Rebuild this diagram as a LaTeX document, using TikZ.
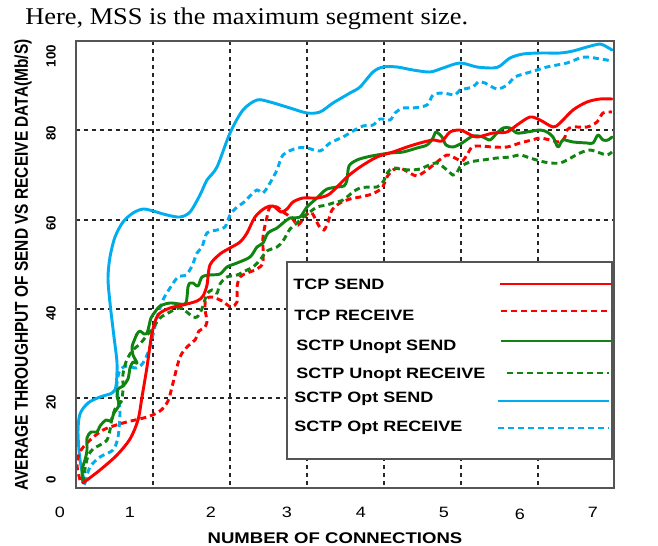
\documentclass[tikz,border=0pt]{standalone}
\usepackage{graphicx}
\usepackage{fontspec}
\setmainfont{Liberation Serif}
\setsansfont{Liberation Sans}
\usetikzlibrary{positioning}

\definecolor{tcpred}{RGB}{255,0,0}
\definecolor{unoptgreen}{RGB}{16,132,16}
\definecolor{optcyan}{RGB}{0,174,239}
\definecolor{framegray}{RGB}{85,85,85}

% the source figure is stretched sideways
\newcommand{\wide}[1]{\scalebox{1.2}[1]{#1}}

\tikzset{
  gridline/.style={black!85, line width=1.1pt, dash pattern=on 3pt off 3pt},
  sendline/.style={line width=2.2pt, line join=round, line cap=round},
  recvline/.style={line width=2.2pt, dash pattern=on 4.5pt off 3pt},
  legtext/.style={anchor=west, inner sep=0pt, font=\sffamily\bfseries\fontsize{11.25}{13}\selectfont},
  ticktext/.style={inner sep=0pt, font=\sffamily\fontsize{11.25}{13}\selectfont},
  ytick/.style={inner sep=0pt, rotate=90, font=\sffamily\bfseries\fontsize{10}{12}\selectfont},
}

\begin{document}
\begin{tikzpicture}[x=0.75pt, y=-0.75pt]
  \useasboundingbox (0,0) rectangle (658,546);

  % Caption line above the plot
  \node[anchor=base west, inner sep=0pt] (header) at (25,25)
    {\fontsize{18}{20}\selectfont\scalebox{1.1}[1]{Here, MSS is the maximum segment size.}};

  % Grid
  \foreach \gx in {153,230,307,384,461,538}
    \draw[gridline] (\gx,41) -- (\gx,488);
  \foreach \gy in {130,220,309,398}
    \draw[gridline] (76,\gy) -- (614,\gy);

  % Legend box (covers the grid)
  \filldraw[fill=white, draw=framegray, line width=1.1pt] (287,262) rectangle (612,459);
  \node[legtext] (lgA) at (293,284) {\wide{TCP SEND}};
  \node[legtext] (lgB) at (294,315) {\wide{TCP RECEIVE}};
  \node[legtext] (lgC) at (296,347) {\wide{SCTP Unopt SEND}};
  \node[legtext] (lgD) at (296,375) {\wide{SCTP Unopt RECEIVE}};
  \node[legtext] (lgE) at (294,399) {\wide{SCTP Opt SEND}};
  \node[legtext] (lgF) at (294,428) {\wide{SCTP Opt RECEIVE}};
  \draw[sendline, tcpred, line cap=butt] (500,284) -- (612,284);
  \draw[recvline, tcpred] (501,311) -- (612,311);
  \draw[sendline, unoptgreen, line cap=butt] (501,341) -- (612,341);
  \draw[recvline, unoptgreen] (507,373) -- (609,373);
  \draw[sendline, optcyan, line cap=butt] (498,401) -- (609,401);
  \draw[recvline, optcyan] (498,428) -- (609,428);

  % SCTP Opt RECEIVE
  \draw[recvline, optcyan] plot[smooth, tension=0.5] coordinates {
    (85,483) (90,467) (100,457) (113,450) (118,437) (120,413) (118,397) (117,383)
    (120,370) (127,366) (136,368) (143,363) (150,347) (157,318) (163,300) (170,288)
    (178,277) (186,275) (192,266) (197,253) (202,247) (207,233) (217,230) (225,227)
    (230,215) (237,207) (243,203) (250,196) (257,190) (263,193) (270,183) (277,170)
    (283,155) (297,148) (307,148) (320,151) (330,143) (343,137) (353,131) (363,126)
    (373,125) (380,119) (390,120) (395,113) (403,108) (413,108) (427,105) (433,95)
    (443,93) (455,95) (460,90) (473,87) (478,82) (485,83) (497,89) (507,85) (515,77)
    (527,73) (537,70) (547,67) (557,65) (567,63) (580,58) (588,57) (600,59) (607,60)
    (612,62)};
  % SCTP Opt SEND
  \draw[sendline, optcyan] plot[smooth, tension=0.5] coordinates {
    (85,484) (80,460) (78,432) (80,414) (88,403) (100,397) (112,393) (116,386)
    (117,363) (114,337) (110,303) (108,278) (110,257) (115,237) (123,222) (133,213)
    (143,209) (153,211) (167,215) (180,217) (190,212) (200,195) (207,180) (217,167)
    (230,133) (243,110) (257,100) (270,102) (290,108) (307,113) (320,112) (333,103)
    (350,93) (360,87) (373,72) (383,67) (397,67) (413,70) (430,72) (443,68) (460,63)
    (477,67) (493,68) (500,66) (510,58) (523,54) (540,53) (560,53) (573,51) (587,47)
    (600,44) (607,47) (612,50)};
  % TCP RECEIVE
  \draw[recvline, tcpred] plot[smooth, tension=0.5] coordinates {
    (80,480) (77,465) (80,452) (88,442) (103,430) (123,423) (147,417) (160,411)
    (168,401) (173,383) (180,357) (188,346) (195,340) (199,331) (204,328) (207,322)
    (205,309) (206,299) (212,297) (222,301) (231,307) (237,302) (237,287) (240,277)
    (247,273) (257,269) (263,262) (263,237) (267,217) (270,207) (277,207) (283,212)
    (292,218) (298,225) (307,214) (312,213) (319,226) (324,230) (328,222) (332,210)
    (340,203) (350,199) (360,197) (372,194) (382,188) (387,177) (393,170) (400,168)
    (410,173) (417,176) (427,170) (437,162) (447,155) (455,158) (462,161) (467,155)
    (472,147) (480,146) (493,147) (507,147) (520,143) (532,140) (540,138) (550,140)
    (560,142) (565,137) (567,130) (573,127) (587,127) (597,122) (603,113) (612,112)};
  % SCTP Unopt RECEIVE
  \draw[recvline, unoptgreen] plot[smooth, tension=0.5] coordinates {
    (83,483) (85,469) (88,456) (93,449) (100,445) (107,440) (110,430) (112,418)
    (116,407) (121,402) (123,390) (123,374) (126,362) (130,354) (135,348) (140,344)
    (148,334) (153,328) (160,318) (170,312) (180,308) (188,313) (193,317) (197,317)
    (200,313) (203,306) (207,294) (212,290) (217,293) (220,284) (227,277) (237,275)
    (247,270) (253,267) (260,260) (267,251) (277,247) (283,241) (290,229) (297,223)
    (303,217) (310,212) (317,207) (327,205) (333,203) (343,200) (353,192) (360,188)
    (370,187) (377,187) (383,182) (388,172) (393,168) (400,169) (410,170) (420,169)
    (427,166) (437,163) (447,170) (453,175) (457,173) (460,167) (470,162) (483,160)
    (497,158) (510,157) (520,155) (530,158) (540,161) (550,163) (560,163) (567,160)
    (580,153) (590,150) (600,153) (607,155) (612,152)};
  % SCTP Unopt SEND
  \draw[sendline, unoptgreen] plot[smooth, tension=0.5] coordinates {
    (83,483) (82,470) (85,460) (87,450) (87,438) (91,432) (97,432) (100,426)
    (106,420) (111,421) (114,413) (119,405) (117,396) (118,389) (123,386) (128,379)
    (130,368) (133,362) (137,363) (133,355) (132,347) (134,341) (137,334) (140,331)
    (144,334) (147,333) (149,326) (151,318) (155,312) (160,306) (170,303) (180,304)
    (186,303) (188,287) (190,283) (193,283) (198,286) (202,277) (210,275) (220,274)
    (227,267) (237,263) (250,257) (257,247) (263,243) (268,233) (277,228) (283,223)
    (290,218) (300,217) (307,207) (317,198) (322,193) (327,189) (337,187) (344,186)
    (347,180) (349,166) (357,160) (367,157) (377,155) (390,153) (403,152) (417,148)
    (427,145) (433,138) (436,132) (442,137) (446,145) (453,147) (462,143) (473,136)
    (483,137) (490,140) (497,133) (503,128) (510,128) (517,133) (527,132) (540,130)
    (547,132) (553,137) (558,147) (563,140) (573,142) (587,143) (593,143) (598,135)
    (603,140) (608,140) (612,137)};
  % TCP SEND
  \draw[sendline, tcpred] plot[smooth, tension=0.5] coordinates {
    (83,483) (100,470) (117,455) (130,439) (138,420) (142,397) (147,367) (152,333)
    (158,315) (170,308) (183,305) (197,301) (203,296) (207,285) (210,265) (220,254)
    (230,248) (240,242) (247,233) (255,217) (265,208) (273,206) (281,212) (287,209)
    (293,202) (303,198) (317,198) (328,195) (337,187) (347,177) (360,167) (377,157)
    (393,152) (407,147) (420,143) (433,140) (442,141) (450,132) (460,130) (467,133)
    (477,137) (493,133) (507,132) (517,125) (530,117) (540,120) (553,127) (560,123)
    (573,110) (587,102) (600,99) (612,99)};

  % Frame
  \draw[framegray, line width=1.5pt] (76,41) rectangle (614,488);

  % Tick labels
  \node[ytick] (y100) at (51,56) {100};
  \node[ytick] (y80) at (51,133) {80};
  \node[ytick] (y60) at (51,223) {60};
  \node[ytick] (y40) at (51,313) {40};
  \node[ytick] (y20) at (51,402) {20};
  \node[ytick] (y0) at (51,480) {0};
  \foreach \lx/\lv in {60/0,130/1,211/2,287/3,361/4,444/5,593/7}
    \node[ticktext] (x\lv) at (\lx,512) {\wide{\lv}};
  \node[ticktext] (x6) at (520,514) {\wide{6}};

  % Axis titles
  \node[inner sep=0pt, font=\sffamily\bfseries\fontsize{11.6}{13}\selectfont] (xtitle) at (335,538)
    {\wide{NUMBER OF CONNECTIONS}};
  \node[inner sep=0pt, rotate=90, font=\sffamily\bfseries\fontsize{11.6}{13}\selectfont] (ytitle) at (23,265)
    {\scalebox{1}[1.2]{AVERAGE THROUGHPUT OF SEND VS RECEIVE DATA(Mb/S)}};
\end{tikzpicture}
\end{document}
